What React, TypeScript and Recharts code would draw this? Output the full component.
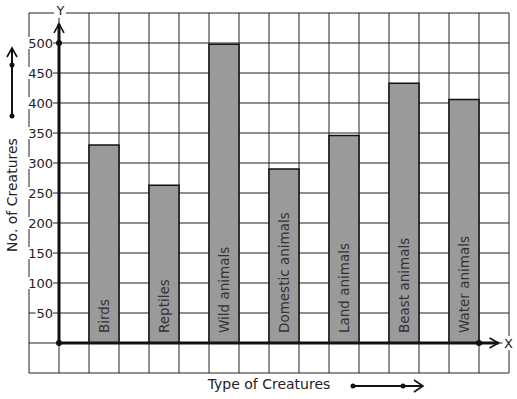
import React from 'react'
import {
  Bar,
  BarChart,
  CartesianGrid,
  Customized,
  LabelList,
  ReferenceArea,
  ReferenceLine,
  XAxis,
  YAxis,
} from 'recharts'

const creatures = [
  'Birds',
  'Reptiles',
  'Wild animals',
  'Domestic animals',
  'Land animals',
  'Beast animals',
  'Water animals',
]
const counts = [330, 263, 498, 290, 346, 433, 406]
const yTicks = [-50, 0, 50, 100, 150, 200, 250, 300, 350, 400, 450, 500, 550]
const yLabels = [50, 100, 150, 200, 250, 300, 350, 400, 450, 500]

// two empty columns, then each creature followed by an empty column
const data: { name: string; label: string; count: number | null }[] = [
  { name: 'gap-a', label: '', count: null },
  { name: 'gap-b', label: '', count: null },
]
creatures.forEach((c, i) => {
  data.push({ name: c, label: c, count: counts[i] })
  data.push({ name: 'gap-' + i, label: '', count: null })
})
const COLS = data.length

const FONT = 'DejaVu Sans, sans-serif'
const INK = '#111'

const YTick = (props: any) => {
  const v = Number(props.payload?.value)
  if (!yLabels.includes(v)) return <g />
  const s = String(v)
  const w = s.length * 8.2 + 1
  return (
    <g>
      <rect x={53 - w} y={props.y - 6} width={w} height={12} fill="#fff" />
      <text x={53} y={props.y} dy={4.5} textAnchor="end" fontSize={13} fontFamily={FONT} fill="#222">
        {s}
      </text>
    </g>
  )
}

const BarLabel = (props: any) => {
  const { x, y, width, height, value } = props
  if (!value) return null
  const cx = x + width / 2 + 4.5
  const by = y + height - 10
  return (
    <text
      transform={`translate(${cx},${by}) rotate(-90)`}
      fontSize={13.5}
      fontFamily={FONT}
      fill="#333"
    >
      {value}
    </text>
  )
}

// y axis: vertical arrow in the second column, from 0 up past 500
const YAxisArrow = (props: any) => {
  const { x, y, width, height } = props
  const col = width / COLS
  const ax = x + col
  return (
    <g>
      <line x1={ax} y1={y + height} x2={ax} y2={y} stroke={INK} strokeWidth={3} />
      <polyline points={`${ax - 5},${y + 9} ${ax},${y} ${ax + 5},${y + 9}`} fill="none" stroke={INK} strokeWidth={1.6} />
      <rect x={ax - 5} y={y - 20} width={12} height={14} fill="#fff" />
      <text x={ax + 1.5} y={y - 9} textAnchor="middle" fontSize={13} fontFamily={FONT} fill="#222">Y</text>
    </g>
  )
}

// x axis at value 0
const XAxisArrow = (props: any) => {
  const { x1, y1, x2 } = props
  const col = (x2 - x1) / COLS
  const sx = x1 + col
  const ex = x1 + col * 15.65
  return (
    <g>
      <line x1={sx} y1={y1} x2={ex} y2={y1} stroke={INK} strokeWidth={3} />
      <polyline points={`${ex - 9},${y1 - 5} ${ex},${y1} ${ex - 9},${y1 + 5}`} fill="none" stroke={INK} strokeWidth={1.6} />
      <rect x={ex + 4} y={y1 - 7} width={12} height={14} fill="#fff" />
      <text x={ex + 10} y={y1 + 5} textAnchor="middle" fontSize={13} fontFamily={FONT} fill="#222">X</text>
      <circle cx={sx} cy={y1} r={3} fill={INK} />
      <circle cx={x1 + col * 15} cy={y1} r={3} fill={INK} />
    </g>
  )
}

const Dot500 = (props: any) => {
  const { x1, y1, x2 } = props
  const col = (x2 - x1) / COLS
  return <circle cx={x1 + col} cy={y1} r={3} fill={INK} />
}

const AxisTitles = () => (
  <g>
    <text
      transform="translate(17,195) rotate(-90)"
      textAnchor="middle"
      fontSize={14}
      fontFamily={FONT}
      fill="#222"
    >
      No. of Creatures
    </text>
    <line x1={12} y1={116} x2={12} y2={48} stroke={INK} strokeWidth={2} />
    <polyline points="7,57 12,48 17,57" fill="none" stroke={INK} strokeWidth={1.6} />
    <circle cx={12} cy={65} r={2.5} fill={INK} />
    <circle cx={12} cy={116} r={2.5} fill={INK} />

    <text x={269} y={389} textAnchor="middle" fontSize={14} fontFamily={FONT} fill="#222">
      Type of Creatures
    </text>
    <line x1={353} y1={386} x2={423} y2={386} stroke={INK} strokeWidth={2} />
    <polyline points="414,380 423,386 414,392" fill="none" stroke={INK} strokeWidth={1.6} />
    <circle cx={353} cy={386} r={2.5} fill={INK} />
    <circle cx={403} cy={386} r={2.5} fill={INK} />
  </g>
)

export default function App() {
  return (
    <div style={{ position: 'absolute', left: 0, top: 0, background: '#fff' }}>
      <BarChart
        width={517}
        height={399}
        data={data}
        margin={{ top: 13, right: 8, bottom: 26, left: 0 }}
        barCategoryGap={0}
        style={{ fontFamily: FONT }}
      >
        <XAxis dataKey="name" type="category" hide />
        <YAxis
          type="number"
          domain={[-50, 550]}
          ticks={yTicks}
          width={29}
          axisLine={false}
          tickLine={false}
          tick={<YTick />}
          interval={0}
          allowDataOverflow
        />
        <CartesianGrid
          stroke="#222"
          strokeWidth={1}
          verticalCoordinatesGenerator={({ offset }: any) =>
            Array.from({ length: COLS + 1 }, (_, i) => offset.left + (i * offset.width) / COLS)
          }
        />
        <Bar
          dataKey="count"
          fill="#9a9a9a"
          stroke={INK}
          strokeWidth={1.5}
          isAnimationActive={false}
        >
          <LabelList dataKey="label" content={<BarLabel />} />
        </Bar>
        <ReferenceArea y1={0} y2={532} shape={<YAxisArrow />} ifOverflow="visible" />
        <ReferenceLine y={0} shape={<XAxisArrow />} ifOverflow="visible" />
        <ReferenceLine y={500} shape={<Dot500 />} ifOverflow="visible" />
        <Customized component={AxisTitles} />
      </BarChart>
    </div>
  )
}
